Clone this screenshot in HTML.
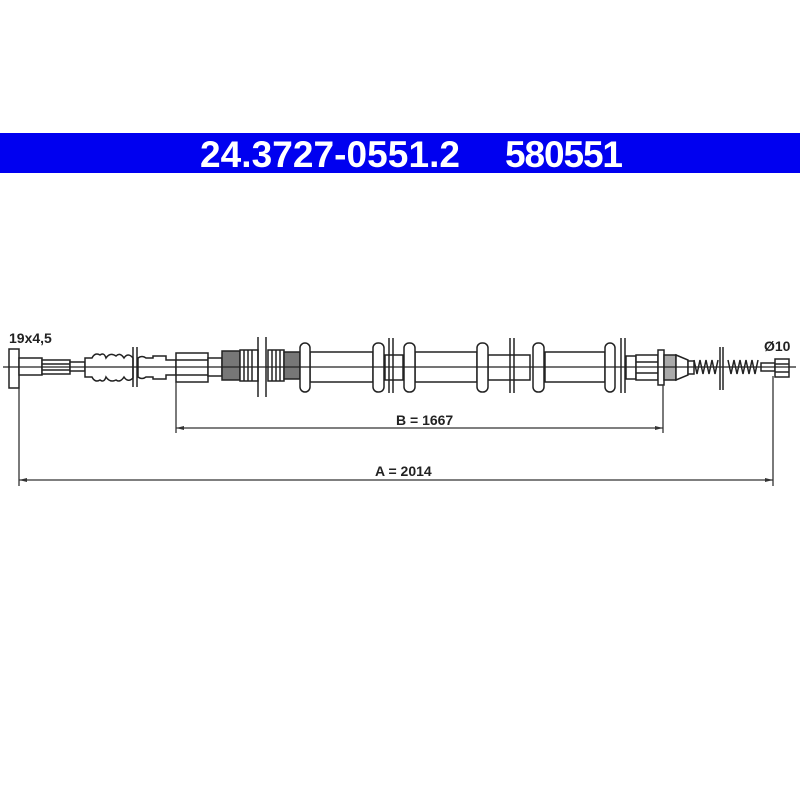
<!DOCTYPE html>
<html><head><style>
html,body{margin:0;padding:0;background:#fff;width:800px;height:800px;overflow:hidden}
svg{display:block}
</style></head><body>
<svg width="800" height="800" viewBox="0 0 800 800" xmlns="http://www.w3.org/2000/svg" font-family="Liberation Sans, Arial, sans-serif">
<rect x="0" y="133" width="800" height="40" fill="#0000f0"/>
<text x="200" y="167" font-size="37" font-weight="bold" fill="#fff" textLength="260">24.3727-0551.2</text>
<text x="505" y="167" font-size="37" font-weight="bold" fill="#fff" textLength="118">580551</text>
<g stroke="#222" stroke-width="1.5" fill="#fff">
<rect x="9" y="349" width="10" height="39"/>
<rect x="19" y="358" width="23" height="17"/>
<rect x="42" y="360" width="28" height="14"/>
<line x1="42" y1="364" x2="70" y2="364"/><line x1="42" y1="370" x2="70" y2="370"/>
<rect x="70" y="362" width="15" height="9"/>
<path d="M85 358 H92 Q95 352 100 355 Q104 352 106 358 Q110 352 116 356 Q120 352 124 358 Q128 352 133 358 V378 Q128 383 124 377 Q120 383 116 380 Q110 383 106 377 Q104 383 100 380 Q95 383 92 377 H85 Z"/>
<line x1="133" y1="347" x2="133" y2="387"/><line x1="137" y1="347" x2="137" y2="387"/>
<path d="M138 358 Q142 355 146 358 H153 V356 H166 V360 H176 V375 H166 V379 H153 V377 H146 Q142 380 138 377 Z"/>
<rect x="176" y="353" width="32" height="29"/>
<line x1="176" y1="360" x2="208" y2="360"/><line x1="176" y1="375" x2="208" y2="375"/>
<rect x="208" y="358" width="14" height="18"/>
<rect x="222" y="351" width="18" height="29" fill="#777"/>
<path d="M240 350 h18 v31 h-18 z" fill="#fff"/>
<line x1="244" y1="350" x2="244" y2="381"/><line x1="248" y1="350" x2="248" y2="381"/><line x1="252" y1="350" x2="252" y2="381"/>
<line x1="258" y1="337" x2="258" y2="397"/><line x1="266" y1="337" x2="266" y2="397"/>
<rect x="268" y="350" width="16" height="31"/>
<line x1="272" y1="350" x2="272" y2="381"/><line x1="276" y1="350" x2="276" y2="381"/><line x1="280" y1="350" x2="280" y2="381"/>
<rect x="284" y="352" width="16" height="27" fill="#777"/>
<rect x="310" y="352" width="63" height="30"/>
<rect x="415" y="352" width="62" height="30"/>
<rect x="488" y="355" width="42" height="25"/>
<rect x="545" y="352" width="60" height="30"/>
<rect x="385" y="355" width="18" height="25"/>
<rect x="300" y="343" width="10" height="49" rx="5"/>
<rect x="373" y="343" width="11" height="49" rx="5"/>
<rect x="404" y="343" width="11" height="49" rx="5"/>
<rect x="477" y="343" width="11" height="49" rx="5"/>
<rect x="533" y="343" width="11" height="49" rx="5"/>
<rect x="605" y="343" width="10" height="49" rx="5"/>
<line x1="389" y1="338" x2="389" y2="393"/><line x1="393" y1="338" x2="393" y2="393"/>
<line x1="510" y1="338" x2="510" y2="393"/><line x1="514" y1="338" x2="514" y2="393"/>
<line x1="621" y1="338" x2="621" y2="393"/><line x1="625" y1="338" x2="625" y2="393"/>
<rect x="626" y="356" width="10" height="23"/>
<rect x="636" y="355" width="22" height="25"/>
<line x1="636" y1="362" x2="658" y2="362"/><line x1="636" y1="373" x2="658" y2="373"/>
<rect x="658" y="350" width="6" height="35"/>
<rect x="664" y="355" width="12" height="25" fill="#aaa"/>
<path d="M676 355 L688 360 V375 L676 380 Z"/>
<rect x="688" y="361" width="6" height="13"/>
<path d="M694 360 l3 14 l3 -14 l3 14 l3 -14 l3 14 l3 -14 l3 14 l3 -14" fill="none"/>
<line x1="720" y1="347" x2="720" y2="390"/><line x1="723" y1="347" x2="723" y2="390"/>
<path d="M728 360 l3 14 l3 -14 l3 14 l3 -14 l3 14 l3 -14 l3 14 l3 -14 l3 14 l3 -14" fill="none"/>
<rect x="761" y="363" width="14" height="8"/>
<rect x="775" y="359" width="14" height="18"/>
<line x1="775" y1="364" x2="789" y2="364"/><line x1="775" y1="372" x2="789" y2="372"/>
</g>
<line x1="3" y1="367" x2="796" y2="367" stroke="#222" stroke-width="1.2"/>
<g stroke="#333" stroke-width="1.3">
<line x1="19" y1="388" x2="19" y2="486"/>
<line x1="773" y1="376" x2="773" y2="486"/>
<line x1="176" y1="382" x2="176" y2="433"/>
<line x1="663" y1="385" x2="663" y2="433"/>
<line x1="19" y1="480" x2="773" y2="480"/>
<line x1="176" y1="428" x2="663" y2="428"/>
</g>
<g fill="#333">
<path d="M19 480 l8 -2 v4 z"/><path d="M773 480 l-8 -2 v4 z"/>
<path d="M176 428 l8 -2 v4 z"/><path d="M663 428 l-8 -2 v4 z"/>
</g>
<g font-size="14" font-weight="bold" fill="#222">
<text x="9" y="343">19x4,5</text>
<text x="764" y="351">Ø10</text>
<text x="396" y="425">B = 1667</text>
<text x="375" y="476">A = 2014</text>
</g>
</svg>
</body></html>
